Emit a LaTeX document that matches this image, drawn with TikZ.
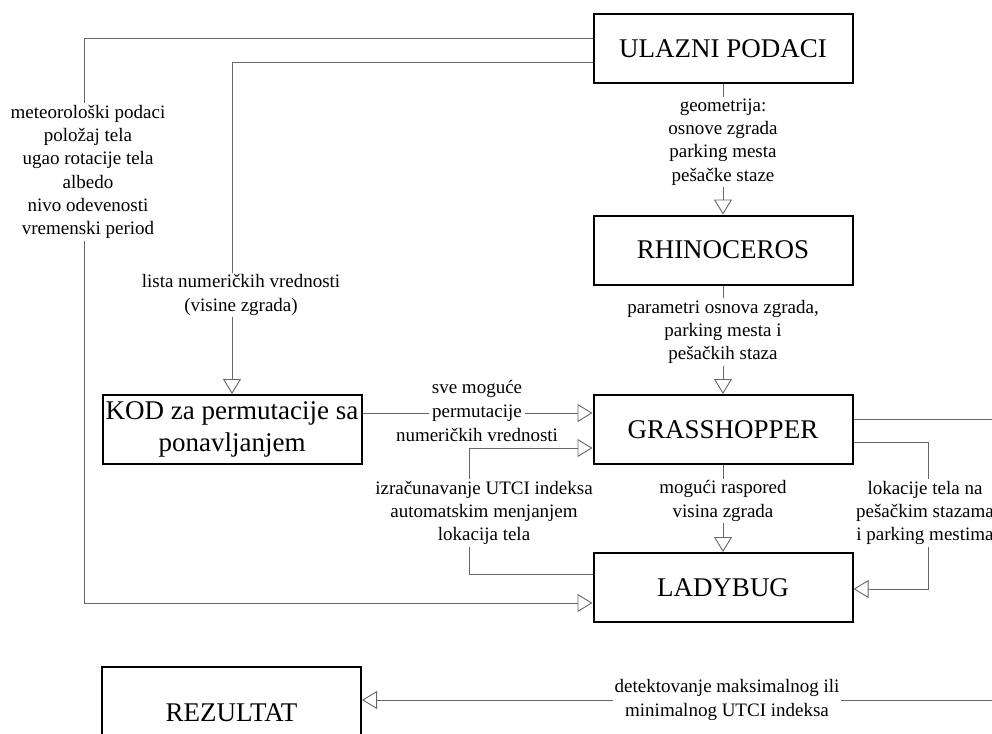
\documentclass[tikz,border=0pt]{standalone}
\usepackage{fontspec}
\setmainfont{Liberation Serif}
\usetikzlibrary{arrows.meta,positioning}
\tikzset{
  box/.style={draw, line width=2pt, minimum width=259pt, minimum height=69pt, inner sep=0pt, align=center, font=\fontsize{27}{32}\selectfont},
  lbl/.style={align=center, inner sep=1.5pt, font=\fontsize{19}{23.3}\selectfont},
  lblrow/.style={lbl, text height=13pt, text depth=4pt, inner ysep=3.15pt, inner xsep=3pt},
  con/.style={draw=black!60, line width=0.9pt},
  arr/.tip={Triangle[open, length=15pt, width=18pt]},
}
\begin{document}
\begin{tikzpicture}[x=1pt, y=-1pt]
	\useasboundingbox (0,0) rectangle (992,733);
	% blokovi
	\node[box] (ulaz) at (723,49) {ULAZNI PODACI};
	\node[box] (rhino) at (723,250) {RHINOCEROS};
	\node[box] (grass) at (723,429.5) {GRASSHOPPER};
	\node[box] (lady) at (723,587.5) {LADYBUG};
	\node[box] (kod) at (232,429.5) {KOD za permutacije sa\\ponavljanjem};
	\node[box, minimum height=92pt] (rez) at (231.5,713) {REZULTAT};
	% opisi veza
	\node[lbl] (meteo) at (88,172) {meteorološki podaci\\položaj tela\\ugao rotacije tela\\albedo\\nivo odevenosti\\vremenski period};
	\node[lbl] (lista) at (241,295) {lista numeričkih vrednosti\\(visine zgrada)};
	\node[lbl] (geom) at (723,142) {geometrija:\\osnove zgrada\\parking mesta\\pešačke staze};
	\node[lbl] (param) at (723,332) {parametri osnova zgrada,\\parking mesta i\\pešačkih staza};
	\node[lblrow] (perm) at (477,413) {permutacije};
	\node[lblrow, above=0pt of perm] (sve) {sve moguće};
	\node[lblrow, below=0pt of perm] (numer) {numeričkih vrednosti};
	\node[lbl] (izr) at (484,513) {izračunavanje UTCI indeksa\\automatskim menjanjem\\lokacija tela};
	\node[lbl] (mog) at (723,501) {mogući raspored\\visina zgrada};
	\node[lbl] (lok) at (925,513) {lokacije tela na\\pešačkim stazama\\i parking mestima};
	\node[lbl] (det) at (727,700) {detektovanje maksimalnog ili\\minimalnog UTCI indeksa};
	% vertikale vodova
	\coordinate (mx) at (84,0);
	\coordinate (lx) at (232,0);
	\coordinate (fx) at (469,0);
	\coordinate (rx) at (928,0);
	\coordinate (ox) at (1012,0);
	% veze
	\draw[con] (ulaz.west |- 0,38) -| (mx |- meteo.north);
	\draw[con,-arr] (mx |- meteo.south) |- (lady.west |- 0,603);
	\draw[con] (ulaz.west |- 0,62) -| (lx |- lista.north);
	\draw[con,-arr] (lx |- lista.south) -- (lx |- kod.north);
	\draw[con] (ulaz) -- (geom);
	\draw[con,-arr] (geom) -- (rhino);
	\draw[con] (rhino) -- (param);
	\draw[con,-arr] (param) -- (grass);
	\draw[con] (kod.east |- perm) -- (perm);
	\draw[con,-arr] (perm) -- (grass.west |- perm);
	\draw[con] (grass) -- (mog);
	\draw[con,-arr] (mog) -- (lady);
	\draw[con] (lady.west |- 0,574) -| (fx |- izr.south);
	\draw[con,-arr] (fx |- izr.north) |- (grass.west |- 0,448);
	\draw[con] (grass.east |- 0,442) -| (rx |- lok.north);
	\draw[con,-arr] (rx |- lok.south) |- (lady.east |- 0,589);
	\draw[con] (grass.east |- 0,419) -| (ox |- det) -- (det);
	\draw[con,-arr] (det) -- (rez.east |- det);
\end{tikzpicture}
\end{document}
